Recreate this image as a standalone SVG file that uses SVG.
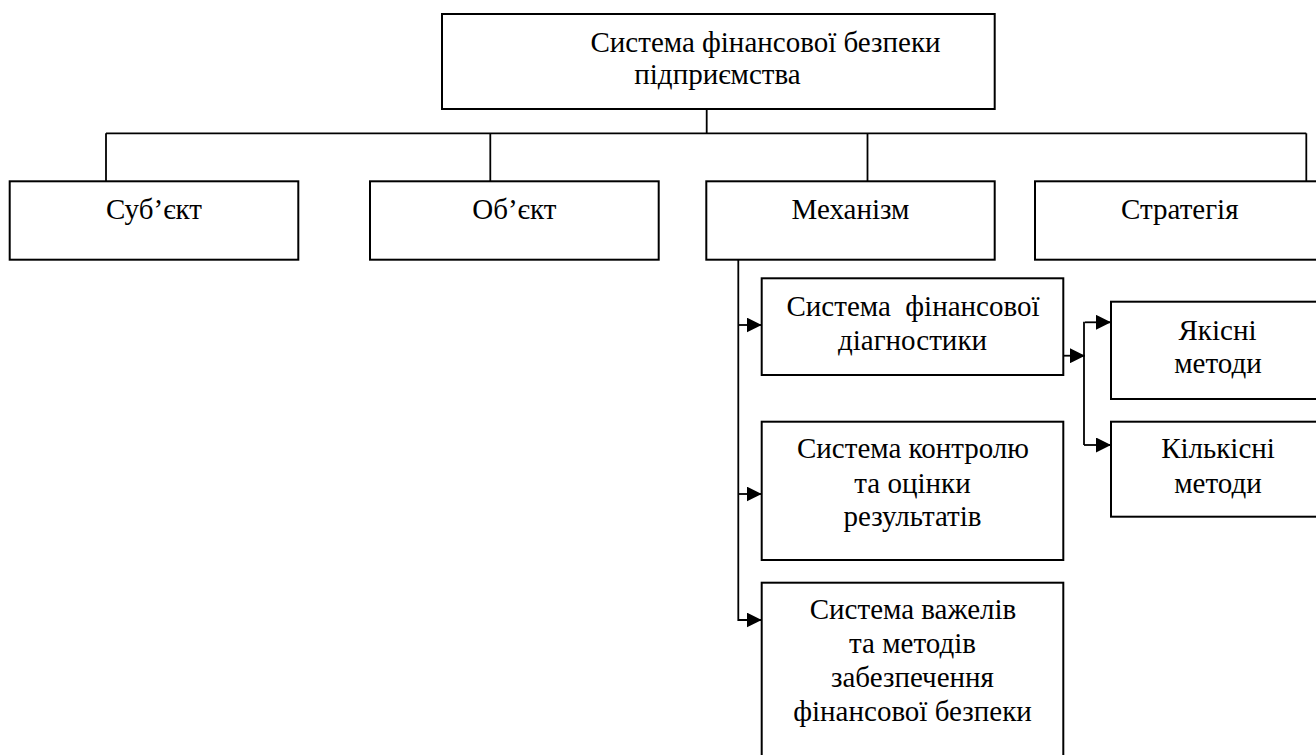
<svg xmlns="http://www.w3.org/2000/svg" width="1316" height="755" viewBox="0 0 1316 755">
  <style>
    .box { fill: #ffffff; stroke: #000000; stroke-width: 2; }
    .lbl { font-family: "Liberation Serif", "Times New Roman", "DejaVu Serif", serif; font-size: 29px; fill: #000000; text-anchor: middle; }
    .wire { fill: none; stroke: #000000; stroke-width: 1.8; }
  </style>
  <defs>
    <marker id="arrow" markerUnits="userSpaceOnUse" markerWidth="16" markerHeight="15" refX="15" refY="7.5" orient="auto">
      <path d="M0,0 L15,7.5 L0,15 z" fill="#000000"/>
    </marker>
  </defs>
  <rect width="1316" height="755" fill="#ffffff"/>

  <!-- connectors -->
  <g id="connectors">
    <path class="wire" d="M706.7,109 V133.3"/>
    <path class="wire" d="M106,133.3 H1306.3"/>
    <path class="wire" d="M106,133.3 V181.3"/>
    <path class="wire" d="M490.3,133.3 V181.3"/>
    <path class="wire" d="M867.5,133.3 V181.3"/>
    <path class="wire" d="M1306.3,133.3 V181.3"/>
    <path class="wire" d="M738.3,259.7 V620 H761.7" marker-end="url(#arrow)"/>
    <path class="wire" d="M738.3,325 H761.7" marker-end="url(#arrow)"/>
    <path class="wire" d="M738.3,494 H761.7" marker-end="url(#arrow)"/>
    <path class="wire" d="M1063.3,355.7 H1085" marker-end="url(#arrow)"/>
    <path class="wire" d="M1084,321.7 V445"/>
    <path class="wire" d="M1085,322.3 H1111" marker-end="url(#arrow)"/>
    <path class="wire" d="M1084,445 H1111" marker-end="url(#arrow)"/>
  </g>

  <g id="system">
    <rect class="box" x="442" y="14" width="552.7" height="95"/>
    <text class="lbl" x="765.5" y="51.7">Система фінансової безпеки</text>
    <text class="lbl" x="717.5" y="84.3">підприємства</text>
  </g>

  <g id="subject">
    <rect class="box" x="9.7" y="181.3" width="288.6" height="78.4"/>
    <text class="lbl" x="154" y="219.3">Суб’єкт</text>
  </g>

  <g id="object">
    <rect class="box" x="370" y="181.3" width="288.7" height="78.4"/>
    <text class="lbl" x="514.3" y="219.3">Об’єкт</text>
  </g>

  <g id="mechanism">
    <rect class="box" x="706.3" y="181.3" width="288.4" height="78.4"/>
    <text class="lbl" x="850.5" y="219.3">Механізм</text>
  </g>

  <g id="strategy">
    <rect class="box" x="1035" y="181.3" width="289" height="78.4"/>
    <text class="lbl" x="1179.8" y="219.3">Стратегія</text>
  </g>

  <g id="diagnostics">
    <rect class="box" x="761.7" y="278.3" width="301.6" height="96.7"/>
    <text class="lbl" x="913" y="316" xml:space="preserve">Система  фінансової</text>
    <text class="lbl" x="912.5" y="350">діагностики</text>
  </g>

  <g id="control">
    <rect class="box" x="761.7" y="421.7" width="301.6" height="138.3"/>
    <text class="lbl" x="913" y="458.3">Система контролю</text>
    <text class="lbl" x="912.5" y="492.5">та оцінки</text>
    <text class="lbl" x="912.5" y="526">результатів</text>
  </g>

  <g id="levers">
    <rect class="box" x="761.7" y="582.7" width="301.6" height="190"/>
    <text class="lbl" x="913" y="619.3">Система важелів</text>
    <text class="lbl" x="912.5" y="653.3">та методів</text>
    <text class="lbl" x="912.5" y="686.7">забезпечення</text>
    <text class="lbl" x="912.5" y="720.7">фінансової безпеки</text>
  </g>

  <g id="qualitative">
    <rect class="box" x="1111" y="301.7" width="214" height="97.3"/>
    <text class="lbl" x="1217.5" y="340">Якісні</text>
    <text class="lbl" x="1218" y="372.7">методи</text>
  </g>

  <g id="quantitative">
    <rect class="box" x="1111" y="421.7" width="214" height="95"/>
    <text class="lbl" x="1218" y="458.3">Кількісні</text>
    <text class="lbl" x="1218" y="492.7">методи</text>
  </g>
</svg>
